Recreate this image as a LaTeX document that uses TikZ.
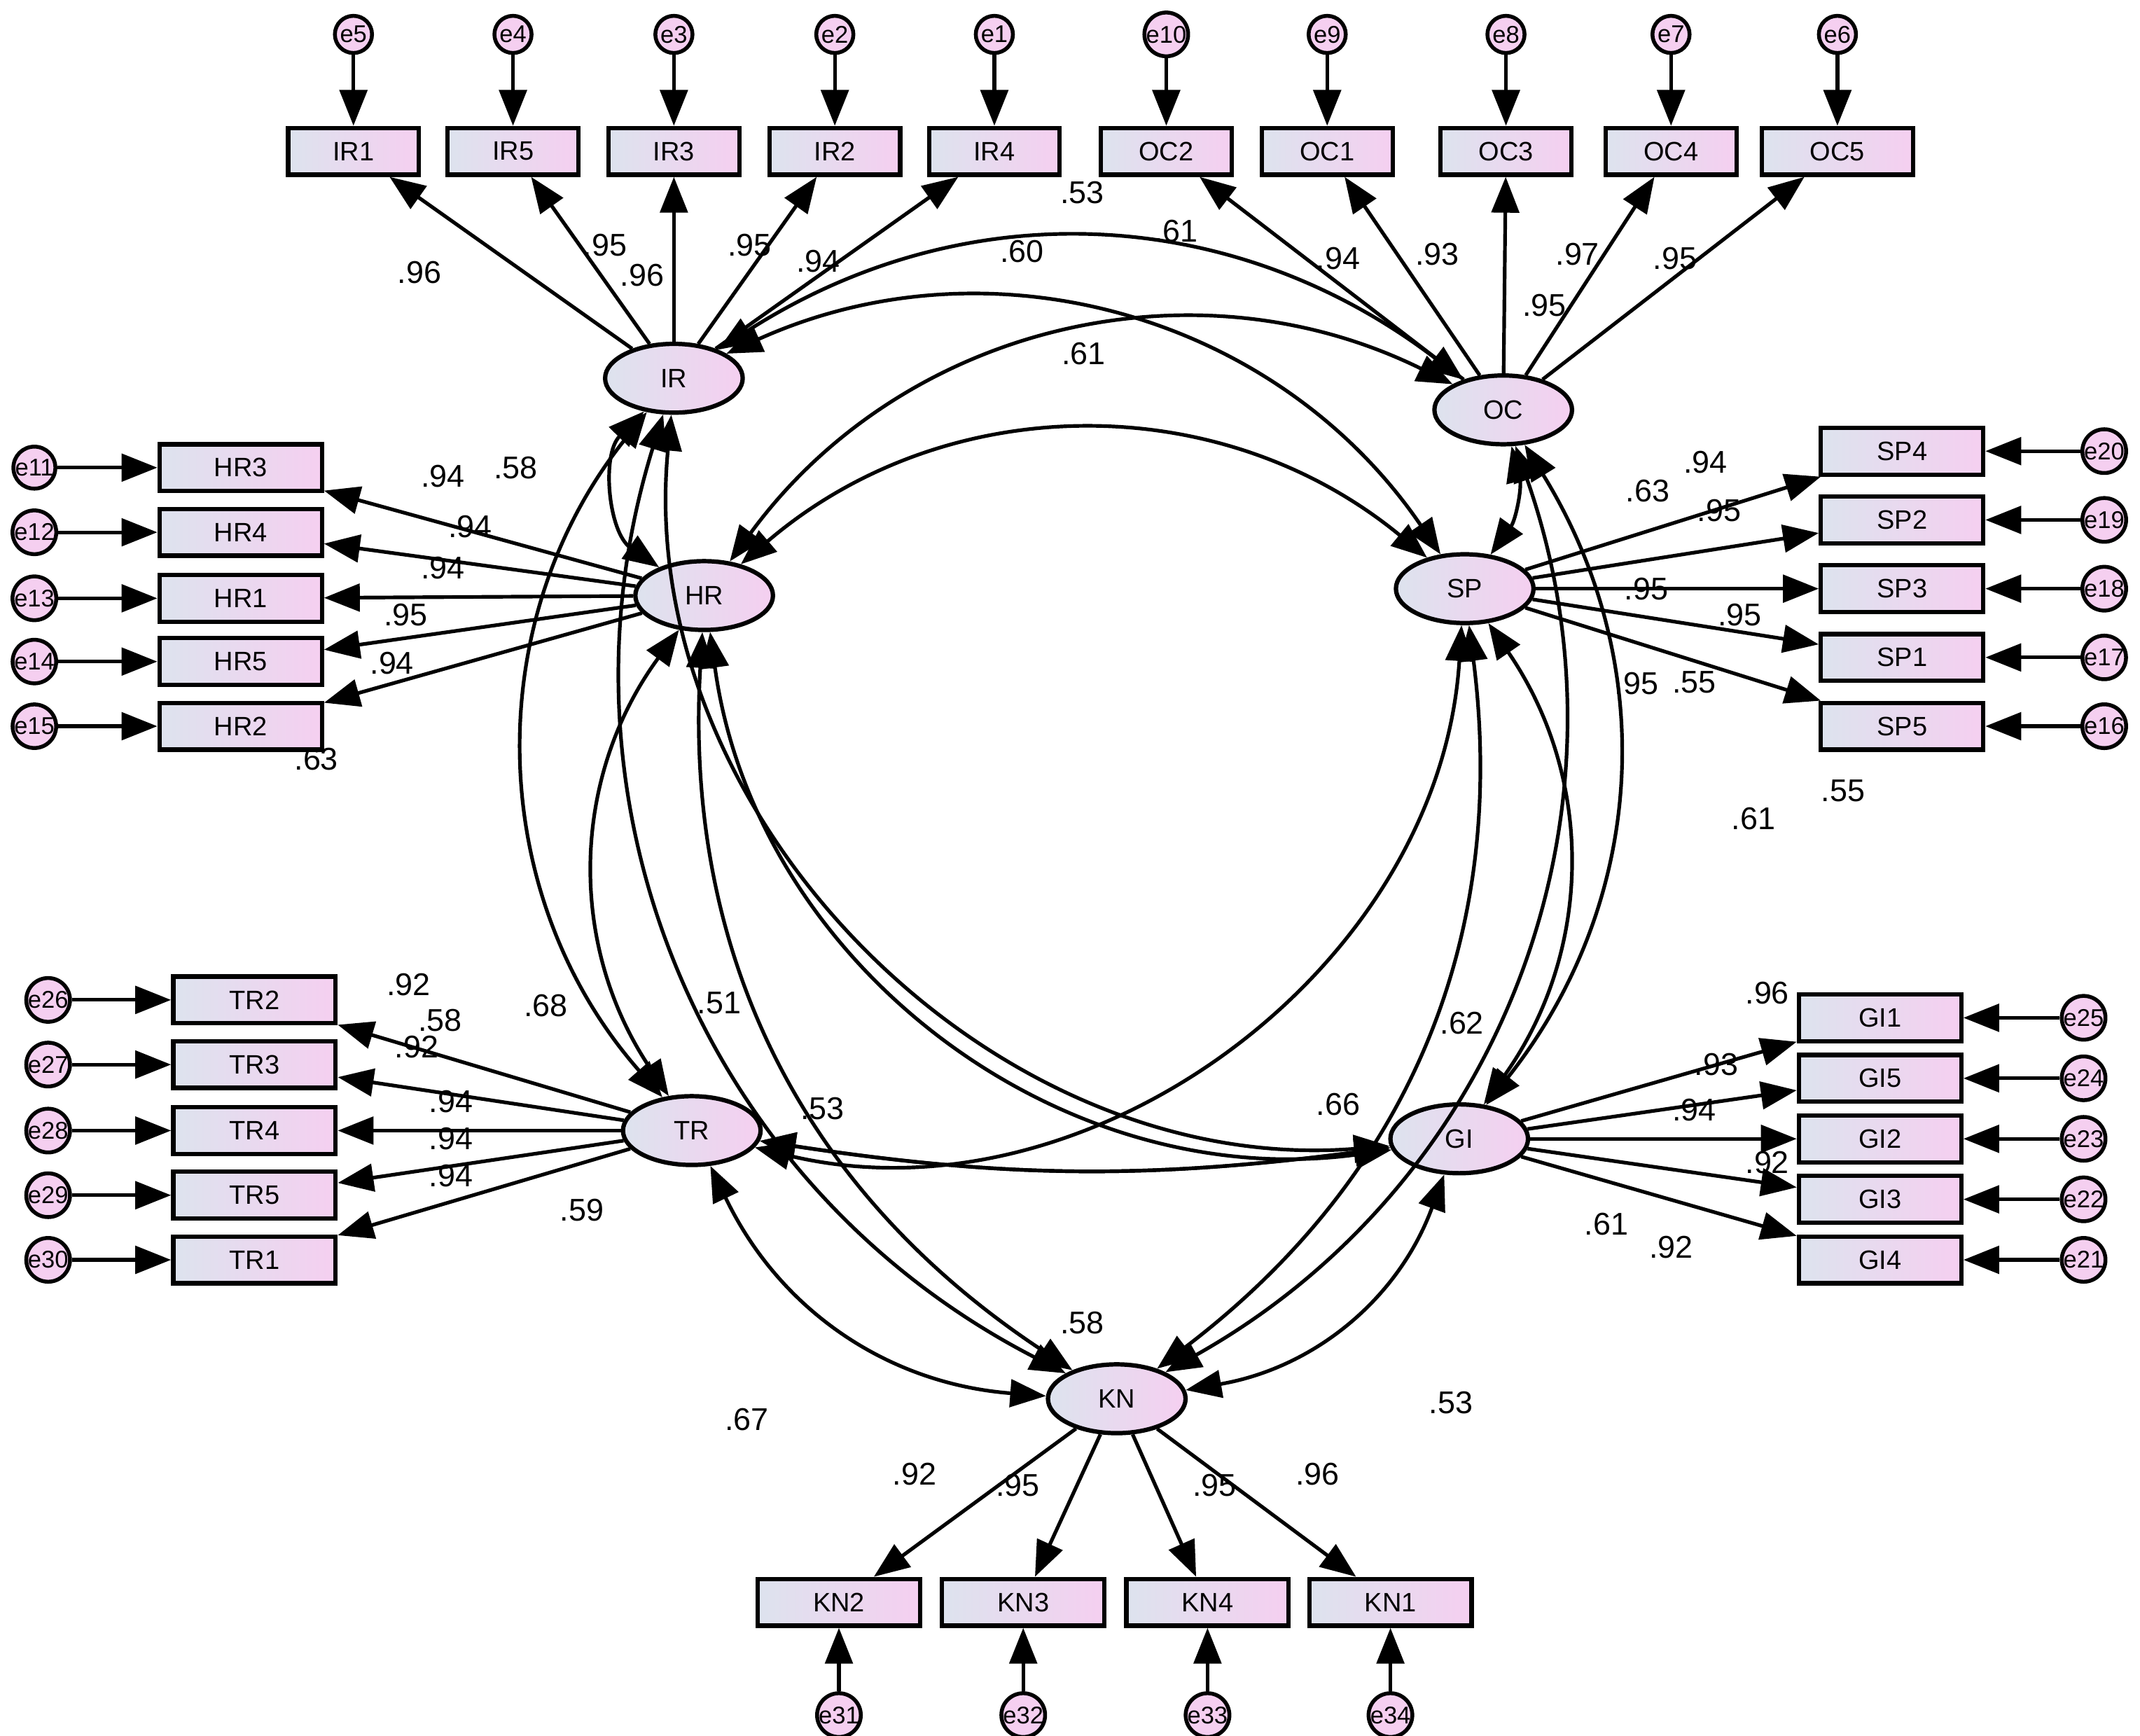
\documentclass[tikz,border=0pt]{standalone}
\usepackage{fontspec}
\setmainfont{Liberation Sans}
\usetikzlibrary{arrows.meta,shapes.geometric}
\definecolor{lc}{HTML}{DDE3EE}
\definecolor{rc}{HTML}{F5CFF0}
\begin{document}
\begin{tikzpicture}[x=0.01cm,y=-0.01cm,
 line width=0.75pt,
 arr/.style={-{Triangle[length=0.26cm,width=0.2cm]}},
 cov/.style={{Triangle[length=0.26cm,width=0.2cm]}-{Triangle[length=0.26cm,width=0.2cm]}},
 ind/.style={draw,line width=0.9pt,minimum width=0.95cm,minimum height=0.34cm,inner sep=0pt,left color=lc,right color=rc,font=\fontsize{5.5}{6}\selectfont},
 wind/.style={ind,minimum width=1.18cm},
 lat/.style={draw,ellipse,line width=0.9pt,minimum width=1cm,minimum height=0.5cm,inner sep=0pt,left color=lc,right color=rc,font=\fontsize{5.5}{6}\selectfont},
 err/.style={draw,circle,line width=0.8pt,minimum size=0.27cm,inner sep=0pt,fill=rc,font=\fontsize{5}{5}\selectfont},
 lab/.style={font=\fontsize{6.5}{7}\selectfont,inner sep=0pt}]
\useasboundingbox (0,0) rectangle (1556,1262);
\node[lat] (IR) at (490,275) {IR};
\node[lat] (OC) at (1093,298) {OC};
\node[lat] (HR) at (512,433) {HR};
\node[lat] (SP) at (1065,428) {SP};
\node[lat] (TR) at (503,822) {TR};
\node[lat] (GI) at (1061,828) {GI};
\node[lat] (KN) at (812,1017) {KN};
% top indicators
\foreach \n/\x/\e/\l in {IR1/257/e5/IR,IR5/373/e4/IR,IR3/490/e3/IR,IR2/607/e2/IR,IR4/723/e1/IR,OC2/848/e10/OC,OC1/965/e9/OC,OC3/1095/e8/OC,OC4/1215/e7/OC}{
 \node[ind] (\n) at (\x,110) {\n};
 \node[err] (\e) at (\x,25) {\e};
 \draw[arr] (\e) -- (\n);
 \draw[arr] (\l) -- (\n);}
\node[ind,minimum width=1.1cm] (OC5) at (1336,110) {OC5};
\node[err] (e6) at (1336,25) {e6};
\draw[arr] (e6) -- (OC5); \draw[arr] (OC) -- (OC5);
% HR
\foreach \n/\y/\e in {HR3/340/e11,HR4/387/e12,HR1/435/e13,HR5/481/e14,HR2/528/e15}{
 \node[wind] (\n) at (175,\y) {\n};
 \node[err] (\e) at (25,\y) {\e};
 \draw[arr] (\e) -- (\n); \draw[arr] (HR) -- (\n);}
% SP
\foreach \n/\y/\e in {SP4/328/e20,SP2/378/e19,SP3/428/e18,SP1/478/e17,SP5/528/e16}{
 \node[wind] (\n) at (1383,\y) {\n};
 \node[err] (\e) at (1530,\y) {\e};
 \draw[arr] (\e) -- (\n); \draw[arr] (SP) -- (\n);}
% TR
\foreach \n/\y/\e in {TR2/727/e26,TR3/774/e27,TR4/822/e28,TR5/869/e29,TR1/916/e30}{
 \node[wind] (\n) at (185,\y) {\n};
 \node[err] (\e) at (35,\y) {\e};
 \draw[arr] (\e) -- (\n); \draw[arr] (TR) -- (\n);}
% GI
\foreach \n/\y/\e in {GI1/740/e25,GI5/784/e24,GI2/828/e23,GI3/872/e22,GI4/916/e21}{
 \node[wind] (\n) at (1367,\y) {\n};
 \node[err] (\e) at (1515,\y) {\e};
 \draw[arr] (\e) -- (\n); \draw[arr] (GI) -- (\n);}
% KN
\foreach \n/\x/\e in {KN2/610/e31,KN3/744/e32,KN4/878/e33,KN1/1011/e34}{
 \node[wind] (\n) at (\x,1165) {\n};
 \node[err] (\e) at (\x,1247) {\e};
 \draw[arr] (\e) -- (\n); \draw[arr] (KN) -- (\n);}
% covariances
\draw[cov] (IR) to[bend left=35] (OC);
\draw[cov] (IR) to[bend left=40] (SP);
\draw[cov] (IR) to[bend right=50] (GI);
\draw[cov] (OC) to[bend left=25] (SP);
\draw[cov] (OC) to[bend left=35] (GI);
\draw[cov] (OC) to[bend left=40] (KN);
\draw[cov] (OC) to[bend right=40] (HR);
\draw[cov] (SP) to[bend left=35] (GI);
\draw[cov] (SP) to[bend left=30] (KN);
\draw[cov] (SP) to[bend left=50] (TR);
\draw[cov] (GI) to[bend left=30] (KN);
\draw[cov] (GI) to[bend left=8] (TR);
\draw[cov] (GI) to[bend left=45] (HR);
\draw[cov] (KN) to[bend left=30] (TR);
\draw[cov] (KN) to[bend left=30] (HR);
\draw[cov] (KN) to[bend left=40] (IR);
\draw[cov] (TR) to[bend left=35] (HR);
\draw[cov] (TR) to[bend left=40] (IR);
\draw[cov] (HR) to[bend left=50] (IR);
\draw[cov] (HR) to[bend left=40] (SP);
\draw[cov] (TR) to[bend right=8] (GI);
% labels
\foreach \t/\x/\y in {.96/305/198,.95/440/178,.96/467/200,.95/545/178,.94/595/190,.94/973/188,.93/1045/185,.95/1123/222,.97/1147/185,.95/1218/188,
 .94/322/346,.94/342/383,.94/322/413,.95/295/447,.94/285/482,
 .94/1240/336,.95/1250/371,.95/1197/428,.95/1265/447,.95/1190/497,
 .92/297/716,.92/303/761,.94/328/801,.94/328/828,.94/328/855,
 .96/1285/722,.93/1248/774,.94/1232/807,.92/1285/845,.92/1215/907,
 .92/665/1072,.95/740/1080,.95/883/1080,.96/958/1072,
 .53/787/140,.61/855/168,.60/743/183,.61/788/257,.58/375/340,.63/1198/357,.63/230/552,.61/1275/595,.55/1340/575,.58/320/742,.68/397/731,.51/523/729,.62/1063/744,.66/973/803,.53/598/806,.59/423/880,.58/787/962,.67/543/1032,.53/1055/1020,.61/1168/890,.55/1232/496}
 \node[lab] at (\x,\y) {\t};
\end{tikzpicture}
\end{document}
